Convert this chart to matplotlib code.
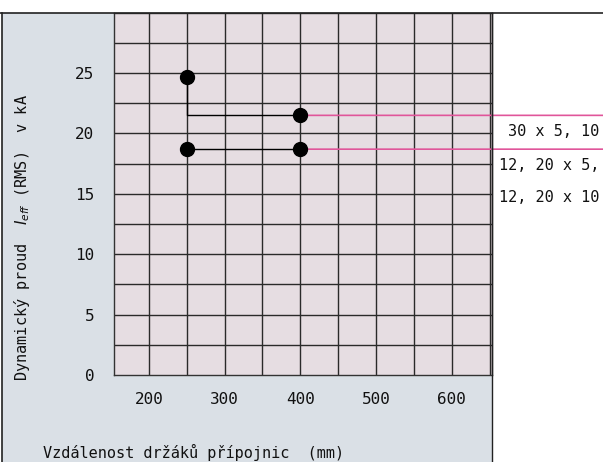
import matplotlib
matplotlib.use("Agg")
import matplotlib.pyplot as plt
from matplotlib.patches import Rectangle
from matplotlib.lines import Line2D

plt.rcParams['font.family'] = ['DejaVu Sans Mono', 'DejaVu Sans']

# Data
spacing_mm = [250, 400, 250, 400]
current_ka = [24.7, 21.5, 18.7, 18.7]
x_ticks = [200, 300, 400, 500, 600]
y_ticks = [0, 5, 10, 15, 20, 25]
busbar_labels = ["30 x 5, 10", "12, 20 x 5,", "12, 20 x 10"]

W, H = 603, 462
fig = plt.figure(figsize=(W / 100, H / 100), dpi=100)
fig.patch.set_facecolor('white')

def fx(px):
    return px / W

def fy(py):
    return 1 - py / H

# blue-gray panel
fig.patches.append(Rectangle((fx(2), 0), fx(492) - fx(2), fy(12.7), transform=fig.transFigure,
                             facecolor='#dae0e6', edgecolor='none', zorder=-10))
fig.lines.append(Line2D([fx(2), fx(2)], [0, fy(12.7)], transform=fig.transFigure, color='#222222', lw=1.2, zorder=5))
fig.lines.append(Line2D([0, 1], [fy(12.7), fy(12.7)], transform=fig.transFigure, color='#222222', lw=1.2, zorder=5))
fig.lines.append(Line2D([fx(492), fx(492)], [0, fy(12.7)], transform=fig.transFigure, color='#222222', lw=1.0, zorder=5))

ax = fig.add_axes([fx(114), fy(375), fx(492) - fx(114), fy(12.7) - fy(375)])
ax.set_facecolor('#e6dde2')
ax.set_xlim(154, 653)
ax.set_ylim(0, 30)

# grid
for gx in range(200, 651, 50):
    ax.axvline(gx, color='#2a2a2a', lw=1.0, zorder=1)
for gy in [i * 2.5 for i in range(1, 12)]:
    ax.axhline(gy, color='#2a2a2a', lw=1.0, zorder=1)

for s in ax.spines.values():
    s.set_color('#333333')
    s.set_linewidth(1.0)

ax.set_xticks(x_ticks)
ax.set_yticks(y_ticks)
ax.tick_params(length=0, labelsize=11.5, pad=12, colors='#111111', axis='x')
ax.tick_params(length=0, labelsize=11.5, pad=14, colors='#111111', axis='y')

# connecting lines
ax.plot([spacing_mm[0], spacing_mm[0], spacing_mm[1]],
        [current_ka[0], current_ka[1], current_ka[1]], color='black', lw=1.0, zorder=3)
ax.plot([spacing_mm[2], spacing_mm[3]], [current_ka[2], current_ka[3]], color='black', lw=1.0, zorder=3)
ax.plot(spacing_mm, current_ka, 'o', color='black', markersize=10, zorder=4)

# pink leader lines to the figure edge
for yv in [current_ka[1], current_ka[3]]:
    ax.annotate('', xy=(1.0, yv), xycoords=('figure fraction', 'data'),
                xytext=(spacing_mm[1], yv), textcoords='data',
                arrowprops=dict(arrowstyle='-', color='#e0559a', lw=1.2,
                                shrinkA=0, shrinkB=0), annotation_clip=False, zorder=2)

# labels on the right
for text, py in zip(busbar_labels, [132, 166, 197]):
    fig.text(fx(599), fy(py), text, ha='right', va='center', fontsize=11, color='#111111')

fig.text(fx(43), fy(452), "Vzdálenost držáků přípojnic  (mm)", ha='left', va='center',
         fontsize=11, color='#111111')
fig.text(fx(22), fy(237), "Dynamický proud  $I_{eff}$ (RMS)  v kA", ha='center', va='center',
         rotation=90, fontsize=11, color='#111111')

fig.savefig('out.png', dpi=100)
